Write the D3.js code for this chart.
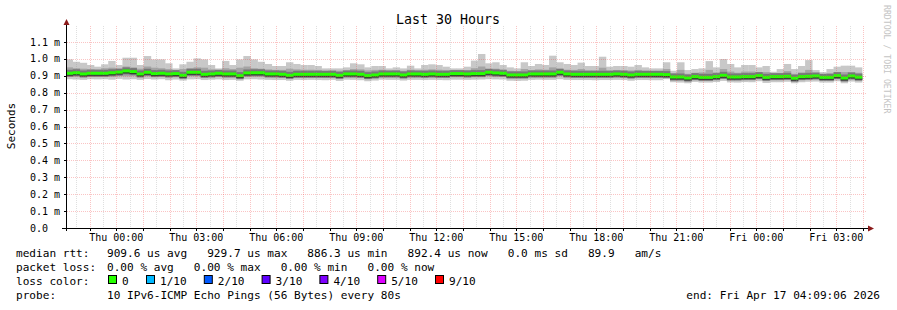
<!DOCTYPE html>
<html>
<head>
<meta charset="UTF-8">
<script src="https://cdn.jsdelivr.net/npm/d3@7"></script>
<style>
  body { margin: 0; background: #fff; }
  svg text { font-family: "DejaVu Sans Mono", monospace; white-space: pre; }
</style>
</head>
<body>
<svg id="chart" width="897" height="310"></svg>
<script>
// ---- data (ms), one value per 16 min column ----
const endTime = new Date(2026, 3, 17, 4, 9, 6);
const dataEnd = new Date(2026, 3, 17, 3, 57, 51);
const stepSec = 960;

const medianMs = [
  0.915,0.918,0.911,0.915,0.915,0.915,0.918,0.922,0.929,0.925,
  0.911,0.921,0.913,0.915,0.911,0.913,0.903,0.921,0.921,0.909,
  0.911,0.915,0.911,0.911,0.901,0.917,0.918,0.918,0.911,0.911,
  0.909,0.903,0.909,0.909,0.909,0.909,0.909,0.909,0.903,0.911,
  0.911,0.909,0.901,0.905,0.911,0.911,0.911,0.905,0.911,0.911,
  0.909,0.911,0.909,0.909,0.913,0.913,0.911,0.913,0.913,0.921,
  0.917,0.915,0.905,0.905,0.905,0.911,0.911,0.911,0.911,0.921,
  0.911,0.909,0.909,0.909,0.909,0.909,0.909,0.911,0.909,0.905,
  0.909,0.909,0.909,0.909,0.907,0.893,0.893,0.887,0.895,0.891,
  0.891,0.895,0.903,0.893,0.893,0.895,0.895,0.901,0.891,0.895,
  0.895,0.897,0.886,0.895,0.897,0.899,0.891,0.891,0.901,0.887,
  0.899,0.892
];
const maxMs = [
  0.997,0.983,0.977,0.964,0.954,0.968,0.988,0.964,1.007,1.007,
  0.964,1.017,0.997,0.997,0.974,0.944,0.968,0.983,1.003,0.997,
  0.964,0.944,0.988,0.964,0.997,1.017,0.997,0.983,0.970,0.958,
  0.958,0.980,0.970,0.964,0.964,0.958,0.944,0.944,0.944,0.950,
  0.974,0.968,0.950,0.958,0.958,0.944,0.950,0.944,0.960,0.944,
  0.964,0.968,0.964,0.954,0.944,0.944,0.954,0.990,1.029,0.974,
  0.980,0.964,0.950,0.944,0.980,0.958,0.970,0.964,1.019,0.980,
  0.970,0.964,0.978,0.958,0.958,1.013,0.954,0.958,0.958,0.954,
  0.964,0.950,0.944,0.944,0.980,0.930,0.980,0.934,0.940,0.944,
  0.987,0.950,0.999,0.970,0.950,0.964,0.964,0.950,0.958,0.924,
  0.940,0.970,0.940,0.958,0.993,0.934,0.922,0.940,0.954,0.960,
  0.960,0.950
];
const hiMs = [
  0.950,0.945,0.942,0.940,0.938,0.945,0.948,0.940,0.955,0.950,
  0.942,0.955,0.948,0.945,0.940,0.932,0.940,0.945,0.950,0.948,
  0.938,0.932,0.945,0.940,0.948,0.955,0.945,0.942,0.938,0.935,
  0.935,0.942,0.938,0.936,0.936,0.935,0.930,0.932,0.930,0.932,
  0.940,0.938,0.932,0.935,0.936,0.930,0.932,0.930,0.936,0.930,
  0.936,0.938,0.936,0.934,0.930,0.930,0.934,0.945,0.955,0.940,
  0.942,0.936,0.930,0.928,0.940,0.934,0.938,0.936,0.950,0.942,
  0.936,0.935,0.940,0.932,0.932,0.948,0.932,0.934,0.934,0.932,
  0.935,0.930,0.928,0.928,0.940,0.915,0.935,0.912,0.918,0.920,
  0.935,0.920,0.940,0.925,0.918,0.925,0.925,0.920,0.922,0.910,
  0.915,0.928,0.912,0.920,0.935,0.912,0.905,0.915,0.920,0.922,
  0.922,0.918
];
const loMs = [
  0.895,0.896,0.893,0.895,0.894,0.895,0.896,0.898,0.897,0.898,
  0.893,0.897,0.894,0.895,0.892,0.894,0.888,0.897,0.897,0.892,
  0.893,0.895,0.892,0.893,0.887,0.895,0.896,0.896,0.893,0.892,
  0.891,0.887,0.891,0.891,0.891,0.891,0.890,0.891,0.886,0.893,
  0.892,0.890,0.885,0.888,0.892,0.892,0.892,0.888,0.892,0.892,
  0.891,0.892,0.891,0.890,0.893,0.893,0.892,0.893,0.893,0.897,
  0.895,0.894,0.887,0.887,0.887,0.892,0.892,0.892,0.892,0.897,
  0.892,0.891,0.891,0.891,0.891,0.891,0.891,0.892,0.891,0.887,
  0.891,0.891,0.891,0.890,0.890,0.876,0.876,0.871,0.878,0.875,
  0.875,0.878,0.885,0.876,0.876,0.878,0.878,0.884,0.874,0.878,
  0.878,0.880,0.871,0.878,0.880,0.882,0.875,0.875,0.884,0.871,
  0.882,0.876
];
const minMs = [
  0.880,0.878,0.876,0.880,0.879,0.880,0.877,0.882,0.878,0.880,
  0.876,0.881,0.878,0.880,0.874,0.878,0.872,0.879,0.880,0.875,
  0.877,0.879,0.875,0.876,0.871,0.879,0.880,0.878,0.876,0.875,
  0.875,0.871,0.876,0.875,0.876,0.875,0.874,0.876,0.870,0.877,
  0.876,0.874,0.868,0.872,0.877,0.876,0.876,0.872,0.876,0.876,
  0.875,0.876,0.875,0.874,0.877,0.877,0.876,0.877,0.878,0.880,
  0.879,0.878,0.871,0.870,0.871,0.876,0.877,0.876,0.876,0.880,
  0.876,0.875,0.875,0.875,0.874,0.875,0.875,0.876,0.875,0.871,
  0.875,0.875,0.874,0.874,0.880,0.862,0.860,0.856,0.864,0.860,
  0.860,0.863,0.870,0.861,0.860,0.863,0.862,0.868,0.858,0.862,
  0.862,0.865,0.856,0.862,0.865,0.866,0.860,0.860,0.868,0.856,
  0.866,0.860
];

const yTicks = [0, 0.1, 0.2, 0.3, 0.4, 0.5, 0.6, 0.7, 0.8, 0.9, 1.0, 1.1];
const yTickLabels = ["0.0", "0.1 m", "0.2 m", "0.3 m", "0.4 m", "0.5 m", "0.6 m",
                     "0.7 m", "0.8 m", "0.9 m", "1.0 m", "1.1 m"];

const statsMedian = "909.6 us avg   929.7 us max   886.3 us min   892.4 us now   0.0 ms sd   89.9   am/s";
const statsLoss = "0.00 % avg   0.00 % max   0.00 % min   0.00 % now";
const probeText = "10 IPv6-ICMP Echo Pings (56 Bytes) every 80s";
const endText = "end: Fri Apr 17 04:09:06 2026";
const lossLabels = ["0", "1/10", "2/10", "3/10", "4/10", "5/10", "9/10"];
const lossColors = ["#26ff00", "#00b8ff", "#0059ff", "#5e00ff", "#7e00ff", "#dd00ff", "#ff0000"];

// ---- layout ----
const svg = d3.select("#chart");
const left = 67, right = 867, bottom = 228, gridTop = 26;

const x = d3.scaleTime()
  .domain([d3.timeHour.offset(endTime, -30), endTime])
  .range([left, right]);
const y = d3.scaleLinear().domain([0, 1.1]).range([bottom, 42]);

svg.append("rect").attr("width", 897).attr("height", 310).attr("fill", "#fff");

svg.append("clipPath").attr("id", "plotclip")
  .append("rect").attr("x", left).attr("y", 0).attr("width", right - left).attr("height", bottom);

const N = medianMs.length;
const colStart = i => new Date(dataEnd.getTime() - (N - i) * stepSec * 1000);
const colEnd = i => new Date(dataEnd.getTime() - (N - i - 1) * stepSec * 1000);

const plot = svg.append("g").attr("clip-path", "url(#plotclip)");

function band(top, bot, fill) {
  plot.append("g").selectAll("rect")
    .data(d3.range(N))
    .join("rect")
    .attr("x", i => x(colStart(i)))
    .attr("width", i => x(colEnd(i)) - x(colStart(i)) + 0.3)
    .attr("y", i => y(top[i]))
    .attr("height", i => y(bot[i]) - y(top[i]))
    .attr("fill", fill);
}
band(maxMs, minMs, "#c8c8c8");
band(hiMs, loMs, "#a4a4a4");

// darker smoke close to the median
plot.append("g").selectAll("rect")
  .data(d3.range(N))
  .join("rect")
  .attr("x", i => x(colStart(i)))
  .attr("width", i => x(colEnd(i)) - x(colStart(i)) + 0.3)
  .attr("y", i => y(medianMs[i]) - 3.5)
  .attr("height", 7)
  .attr("fill", "#787878");
plot.append("g").selectAll("rect")
  .data(d3.range(N))
  .join("rect")
  .attr("x", i => x(colStart(i)))
  .attr("width", i => x(colEnd(i)) - x(colStart(i)) + 0.3)
  .attr("y", i => y(medianMs[i]) + 1)
  .attr("height", 1.5)
  .attr("fill", "#333");
// median
plot.append("g").selectAll("rect")
  .data(d3.range(N))
  .join("rect")
  .attr("x", i => x(colStart(i)))
  .attr("width", i => x(colEnd(i)) - x(colStart(i)) + 0.3)
  .attr("y", i => y(medianMs[i]) - 1.5)
  .attr("height", 3)
  .attr("fill", lossColors[0]);

// ---- grid (on top of the smoke, like rrdtool) ----
const grid = svg.append("g");
const halfHours = d3.timeMinute.every(30).range(x.domain()[0], endTime);
grid.selectAll("line.v")
  .data(halfHours)
  .join("line")
  .attr("x1", d => Math.round(x(d)) + 0.5).attr("x2", d => Math.round(x(d)) + 0.5)
  .attr("y1", gridTop).attr("y2", bottom)
  .attr("stroke", d => d.getMinutes() === 0 ? "rgba(240,70,70,0.32)" : "rgba(150,150,150,0.3)")
  .attr("stroke-dasharray", "1,1");
grid.selectAll("line.h")
  .data(yTicks.slice(1))
  .join("line")
  .attr("x1", left).attr("x2", right)
  .attr("y1", d => Math.round(y(d)) + 0.5).attr("y2", d => Math.round(y(d)) + 0.5)
  .attr("stroke", "rgba(240,70,70,0.32)")
  .attr("stroke-dasharray", "1,1");

// ---- axes ----
const ax = svg.append("g");
ax.append("line").attr("x1", 62).attr("x2", 870).attr("y1", bottom + 0.5).attr("y2", bottom + 0.5)
  .attr("stroke", "#000");
ax.append("line").attr("x1", left - 0.5).attr("x2", left - 0.5).attr("y1", bottom + 3).attr("y2", 22)
  .attr("stroke", "#000");
ax.append("path").attr("d", `M${left - 3.5},25 L${left - 0.5},19 L${left + 2.5},25 Z`).attr("fill", "#8b1a1a");
ax.append("path").attr("d", `M868,${bottom - 2.5} L874,${bottom + 0.5} L868,${bottom + 3.5} Z`).attr("fill", "#8b1a1a");

const hours = d3.timeHour.every(1).range(x.domain()[0], endTime);
ax.selectAll("line.tx")
  .data(hours)
  .join("line")
  .attr("x1", d => Math.round(x(d)) + 0.5).attr("x2", d => Math.round(x(d)) + 0.5)
  .attr("y1", bottom).attr("y2", bottom + 3)
  .attr("stroke", "#000");
ax.selectAll("line.ty")
  .data(yTicks)
  .join("line")
  .attr("x1", left - 3).attr("x2", left)
  .attr("y1", d => Math.round(y(d)) + 0.5).attr("y2", d => Math.round(y(d)) + 0.5)
  .attr("stroke", "#000");

const fmt = d3.timeFormat("%a %H:%M");
ax.selectAll("text.xl")
  .data(hours.filter(d => d.getHours() % 3 === 0))
  .join("text")
  .attr("x", d => x(d)).attr("y", 241)
  .attr("text-anchor", "middle")
  .attr("font-size", "10px").attr("fill", "#000")
  .text(d => fmt(d));
ax.selectAll("text.yl")
  .data(yTicks)
  .join("text")
  .attr("x", 30).attr("y", d => y(d) + 3.5)
  .attr("font-size", "10px").attr("fill", "#000")
  .text((d, i) => yTickLabels[i]);

// ---- titles ----
svg.append("text").attr("x", 448).attr("y", 24).attr("text-anchor", "middle")
  .attr("font-size", "13.3px").attr("fill", "#000").text("Last 30 Hours");
svg.append("text").attr("transform", "translate(15,126) rotate(-90)").attr("text-anchor", "middle")
  .attr("font-size", "11px").attr("fill", "#000").text("Seconds");
svg.append("text").attr("transform", "translate(884,5) rotate(90)")
  .attr("font-size", "8.2px").attr("fill", "#c4c4c4").text("RRDTOOL / TOBI OETIKER");

// ---- legend ----
const lg = svg.append("g").attr("font-size", "11.1px").attr("fill", "#000");
const rows = [257, 271, 285, 299];
lg.append("text").attr("x", 16).attr("y", rows[0]).text("median rtt:");
lg.append("text").attr("x", 107).attr("y", rows[0]).text(statsMedian);
lg.append("text").attr("x", 16).attr("y", rows[1]).text("packet loss:");
lg.append("text").attr("x", 107).attr("y", rows[1]).text(statsLoss);
lg.append("text").attr("x", 16).attr("y", rows[2]).text("loss color:");
lossLabels.forEach((lab, k) => {
  const sx = k === 0 ? 108 : 146 + 57.8 * (k - 1);
  lg.append("rect").attr("x", sx + 0.5).attr("y", rows[2] - 9.5).attr("width", 8).attr("height", 8)
    .attr("fill", lossColors[k]).attr("stroke", "#000");
  lg.append("text").attr("x", sx + 14).attr("y", rows[2]).text(lab);
});
lg.append("text").attr("x", 16).attr("y", rows[3]).text("probe:");
lg.append("text").attr("x", 107).attr("y", rows[3]).text(probeText);
lg.append("text").attr("x", 880).attr("y", rows[3]).attr("text-anchor", "end").text(endText);
</script>
</body>
</html>
